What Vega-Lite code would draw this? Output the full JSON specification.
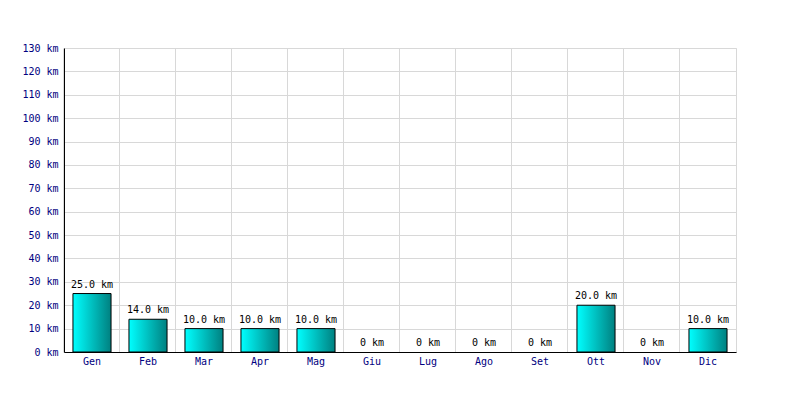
{
  "$schema": "https://vega.github.io/schema/vega-lite/v6.json",
  "width": 672,
  "height": 304,
  "autosize": "none",
  "padding": {"left": 64, "top": 48, "right": 64, "bottom": 48},
  "background": "white",
  "config": {
    "view": {"stroke": "#d8d8d8", "strokeWidth": 1},
    "font": "DejaVu Sans Mono"
  },
  "data": {
    "values": [
      {"mese": "Gen", "km": 25},
      {"mese": "Feb", "km": 14},
      {"mese": "Mar", "km": 10},
      {"mese": "Apr", "km": 10},
      {"mese": "Mag", "km": 10},
      {"mese": "Giu", "km": 0},
      {"mese": "Lug", "km": 0},
      {"mese": "Ago", "km": 0},
      {"mese": "Set", "km": 0},
      {"mese": "Ott", "km": 20},
      {"mese": "Nov", "km": 0},
      {"mese": "Dic", "km": 10}
    ]
  },
  "transform": [
    {"calculate": "datum.km > 0 ? format(datum.km, '.1f') + ' km' : '0 km'", "as": "etichetta"}
  ],
  "encoding": {
    "x": {
      "field": "mese",
      "type": "nominal",
      "sort": null,
      "scale": {"paddingInner": 0.32, "paddingOuter": 0.16},
      "axis": {
        "title": null,
        "labelAngle": 0,
        "labelColor": "#000080",
        "labelFont": "DejaVu Sans Mono",
        "labelFontSize": 10,
        "labelPadding": 4,
        "ticks": false,
        "domainColor": "black",
        "domainWidth": 1,
        "grid": true,
        "gridColor": "#d8d8d8",
        "bandPosition": -0.2368
      }
    },
    "y": {
      "field": "km",
      "type": "quantitative",
      "scale": {"domain": [0, 130], "nice": false},
      "axis": {
        "title": null,
        "values": [0, 10, 20, 30, 40, 50, 60, 70, 80, 90, 100, 110, 120, 130],
        "labelExpr": "datum.value + ' km'",
        "labelColor": "#000080",
        "labelFont": "DejaVu Sans Mono",
        "labelFontSize": 10,
        "labelPadding": 6,
        "ticks": false,
        "domainColor": "black",
        "gridColor": "#d8d8d8"
      }
    }
  },
  "layer": [
    {
      "mark": {
        "type": "bar",
        "stroke": "black",
        "strokeWidth": 1,
        "fill": {
          "gradient": "linear",
          "x1": 0, "y1": 0, "x2": 1, "y2": 0,
          "stops": [
            {"offset": 0, "color": "#00ffff"},
            {"offset": 1, "color": "#008080"}
          ]
        }
      },
      "encoding": {
        "strokeOpacity": {"condition": {"test": "datum.km > 0", "value": 1}, "value": 0}
      }
    },
    {
      "mark": {
        "type": "text",
        "baseline": "bottom",
        "dy": -4,
        "font": "DejaVu Sans Mono",
        "fontSize": 10,
        "color": "black"
      },
      "encoding": {"text": {"field": "etichetta"}}
    }
  ]
}
